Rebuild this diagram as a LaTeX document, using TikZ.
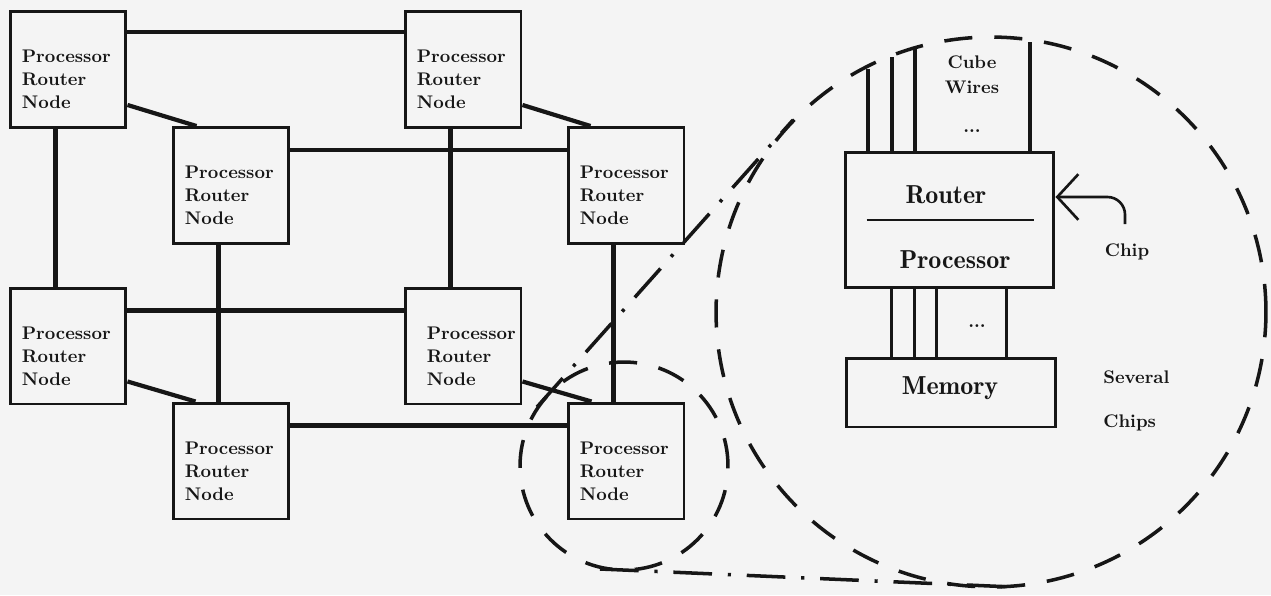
\documentclass[tikz,border=0pt]{standalone}
\usepackage{fontspec}
\usetikzlibrary{arrows.meta,calc}
\definecolor{paper}{RGB}{244,244,244}
\definecolor{ink}{RGB}{22,22,22}
\newfontfamily\demifam{lmromandemi10-regular.otf}
\newcommand\pnfont{\fontsize{10.4}{13}\selectfont\bfseries\addfontfeatures{LetterSpace=7}}
\newcommand\lbfont{\fontsize{10.4}{14}\selectfont\bfseries\addfontfeatures{LetterSpace=7}}
\newcommand\rbigfont{\demifam\fontsize{14.8}{17}\selectfont}
\tikzset{
  pnbox/.style={draw=ink, line width=1.7pt, minimum width=2.32cm, minimum height=2.32cm, inner sep=0pt},
  pntext/.style={anchor=north west, inner sep=0pt, align=left, font=\pnfont, text=ink},
  link/.style={draw=ink, line width=2.4pt},
  chipbox/.style={draw=ink, line width=1.7pt, inner sep=0pt},
  wire/.style={draw=ink, line width=2.2pt},
  bigtext/.style={font=\rbigfont, text=ink, inner sep=0pt},
  lbl/.style={font=\lbfont, text=ink, inner sep=0pt, align=left},
  circdash/.style={draw=ink, line width=2pt, dash pattern=on 16pt off 12.5pt},
  dashdot/.style={draw=ink, line width=2pt, dash pattern=on 22pt off 9pt on 1.8pt off 9pt},
  chiparrow/.style={draw=ink, line width=1.5pt, -{Straight Barb[length=12pt,width=26pt]}, rounded corners=10pt},
}
\newcommand\procnode[4]{%
  \node[pnbox] (#1) at (#2,#3) {};
  \node[pntext] (#1t) at ($(#1.north west)+(#4,40)$) {Processor\\Router\\Node};}
\begin{document}
\begin{tikzpicture}[x=0.02cm, y=-0.02cm]
\fill[paper] (0,0) rectangle (1271,595);
\useasboundingbox (0,0) rectangle (1271,595);

% dashed magnifier circles and dash-dot tangents
\draw[circdash] (991,312) circle[radius=5.5cm];
\draw[circdash] (624,466) circle[radius=2.08cm];
\coordinate (t1a) at (537,407);
\coordinate (t1b) at (793,120);
\coordinate (t2a) at (600,569);
\coordinate (t2b) at (1013,587);
\draw[dashdot] (t1a) -- (t1b);
\draw[dashdot] (t2a) -- (t2b);

% processor router nodes
\procnode{A}{68}{69.5}{13}
\procnode{B}{463}{69.5}{13}
\procnode{C}{231}{185.5}{13}
\procnode{D}{626}{185.5}{13}
\procnode{E}{68}{346}{13}
\procnode{F}{463}{346}{23}
\procnode{G}{231}{461}{13}
\procnode{H}{626}{461}{13}

% cube links
\draw[link] ($(A.north east)+(0,22)$) -- ($(B.north west)+(0,22)$);
\draw[link] ($(C.north east)+(0,24)$) -- ($(D.north west)+(0,24)$);
\draw[link] ($(E.north east)+(0,24)$) -- ($(F.north west)+(0,24)$);
\draw[link] ($(G.north east)+(0,24)$) -- ($(H.north west)+(0,24)$);
\draw[link] ($(A.south west)+(47,0)$) -- ($(E.north west)+(47,0)$);
\draw[link] ($(B.south west)+(47,0)$) -- ($(F.north west)+(47,0)$);
\draw[link] ($(C.south west)+(47,0)$) -- ($(G.north west)+(47,0)$);
\draw[link] ($(D.south west)+(47,0)$) -- ($(H.north west)+(47,0)$);
\draw[link] ($(A.south east)+(0,-24)$) -- ($(C.north west)+(25,0)$);
\draw[link] ($(B.south east)+(0,-24)$) -- ($(D.north west)+(24,0)$);
\draw[link] ($(E.south east)+(0,-24)$) -- ($(G.north west)+(24,0)$);
\draw[link] ($(F.south east)+(0,-24)$) -- ($(H.north west)+(25,0)$);

% chip detail
\node[chipbox, minimum width=4.18cm, minimum height=2.72cm] (R) at (949.5,220) {};
\node[chipbox, minimum width=4.2cm, minimum height=1.38cm] (M) at (951,392.5) {};
\node[bigtext] (Rt) at (946,195) {Router};
\node[bigtext] (Pt) at (955,260) {Processor};
\node[bigtext] (Mt) at (950,388) {Memory};
\draw[draw=ink, line width=1.5pt] ($(R.west)+(23,0)$) -- ($(R.east)+(-21,0)$);

\foreach \dx/\nm in {48/m1,71/m2,93/m3,163/m4}{
  \coordinate (\nm) at ($(R.south west)+(\dx,0)$);
  \draw[wire] (\nm) -- (\nm |- M.north);
}
\node[lbl] (mdots) at (977,326) {...};

\coordinate (w1) at (868,69);
\coordinate (w2) at (892,57);
\coordinate (w3) at (915,48);
\coordinate (w4) at (1030,42);
\foreach \w in {w1,w2,w3,w4}
  \draw[wire] (\w) -- (\w |- R.north);
\node[lbl, align=center] (cube) at (972,75) {Cube\\Wires};
\node[lbl] (cdots) at (972,131) {...};

\node[lbl] (chip) at (1127,252) {Chip};
\coordinate (chipc) at (1125,224);
\draw[chiparrow] (chipc) |- ($(R.east)+(0,-23)$);

\node[lbl, anchor=west] (sev) at (1103,377) {Several};
\node[lbl, anchor=west] (chs) at (1103,423) {Chips};
\end{tikzpicture}
\end{document}
